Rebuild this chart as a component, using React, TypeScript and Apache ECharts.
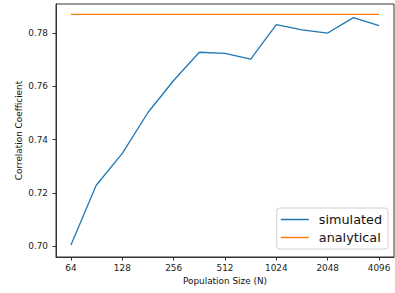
import React, { useEffect, useRef } from "react";
import * as echarts from "echarts";

const populationSizes = [64, 90, 128, 181, 256, 362, 512, 724, 1024, 1448, 2048, 2896, 4096];
const simulated = [0.7005, 0.7229, 0.7349, 0.7502, 0.7622, 0.7728, 0.7724, 0.7702, 0.7832, 0.7812, 0.7800, 0.7858, 0.7828];
const analyticalValue = 0.7870;
const xTickLabels = ["64", "128", "256", "512", "1024", "2048", "4096"];
const seriesNames = ["simulated", "analytical"];

const FONT = "DejaVu Sans";

export default function App() {
  const ref = useRef<HTMLDivElement>(null);
  useEffect(() => {
    if (!ref.current) return;
    const chart = echarts.init(ref.current, null, { renderer: "svg" });
    const simData = populationSizes.map((n, i) => [n, simulated[i]]);
    const anaData = populationSizes.map((n) => [n, analyticalValue]);
    chart.setOption({
      animation: false,
      backgroundColor: "#ffffff",
      textStyle: { fontFamily: FONT },
      grid: { left: 56, top: 4, right: 1, bottom: 36, show: true, borderColor: "#333", borderWidth: 1, backgroundColor: "transparent" },
      xAxis: {
        type: "log",
        logBase: 2,
        min: 52.3,
        max: 5012,
        splitNumber: 7,
        name: "Population Size (N)",
        nameLocation: "middle",
        nameGap: 19,
        nameMoveOverlap: false,
        nameTextStyle: { fontSize: 8.9, color: "#111", fontFamily: FONT },
        axisLine: { show: true, lineStyle: { color: "#333", width: 1 } },
        axisTick: { show: true, length: 3.5, lineStyle: { color: "#333" } },
        splitLine: { show: false },
        axisLabel: {
          margin: 6,
          fontSize: 8.9,
          color: "#222",
          fontFamily: FONT,
          showMinLabel: false,
          showMaxLabel: false,
          formatter: (v: number) => {
            const r = String(Math.round(v));
            return xTickLabels.indexOf(r) >= 0 ? r : "";
          },
        },
      },
      yAxis: {
        type: "value",
        min: 0.696,
        max: 0.7909,
        splitNumber: 5,
        name: "Correlation Coefficient",
        nameLocation: "middle",
        nameGap: 33,
        nameMoveOverlap: false,
        nameTextStyle: { fontSize: 8.9, color: "#111", fontFamily: FONT },
        axisLine: { show: true, lineStyle: { color: "#333", width: 1 } },
        axisTick: { show: true, length: 3.5, lineStyle: { color: "#333" } },
        splitLine: { show: false },
        axisLabel: {
          margin: 8,
          fontSize: 8.9,
          color: "#222",
          fontFamily: FONT,
          showMinLabel: false,
          showMaxLabel: false,
          formatter: (v: number) => v.toFixed(2),
        },
      },
      legend: {
        right: 7,
        bottom: 44,
        orient: "vertical",
        icon: "rect",
        itemWidth: 28,
        itemHeight: 1.5,
        itemGap: 5,
        padding: [5, 6, 5, 4],
        backgroundColor: "rgba(255,255,255,0.8)",
        borderColor: "#d0d0d0",
        borderWidth: 1,
        borderRadius: 3,
        textStyle: { fontSize: 12.8, color: "#111", fontFamily: FONT, padding: [0, 0, 0, 5] },
        data: seriesNames,
      },
      series: [
        {
          name: seriesNames[0],
          type: "line",
          data: simData,
          symbol: "none",
          lineStyle: { color: "#1f77b4", width: 1.3 },
          itemStyle: { color: "#1f77b4" },
        },
        {
          name: seriesNames[1],
          type: "line",
          data: anaData,
          symbol: "none",
          lineStyle: { color: "#ff7f0e", width: 1.3 },
          itemStyle: { color: "#ff7f0e" },
        },
      ],
    });
    return () => chart.dispose();
  }, []);
  return <div ref={ref} style={{ position: "fixed", left: 0, top: 0, width: 395, height: 293 }} />;
}
